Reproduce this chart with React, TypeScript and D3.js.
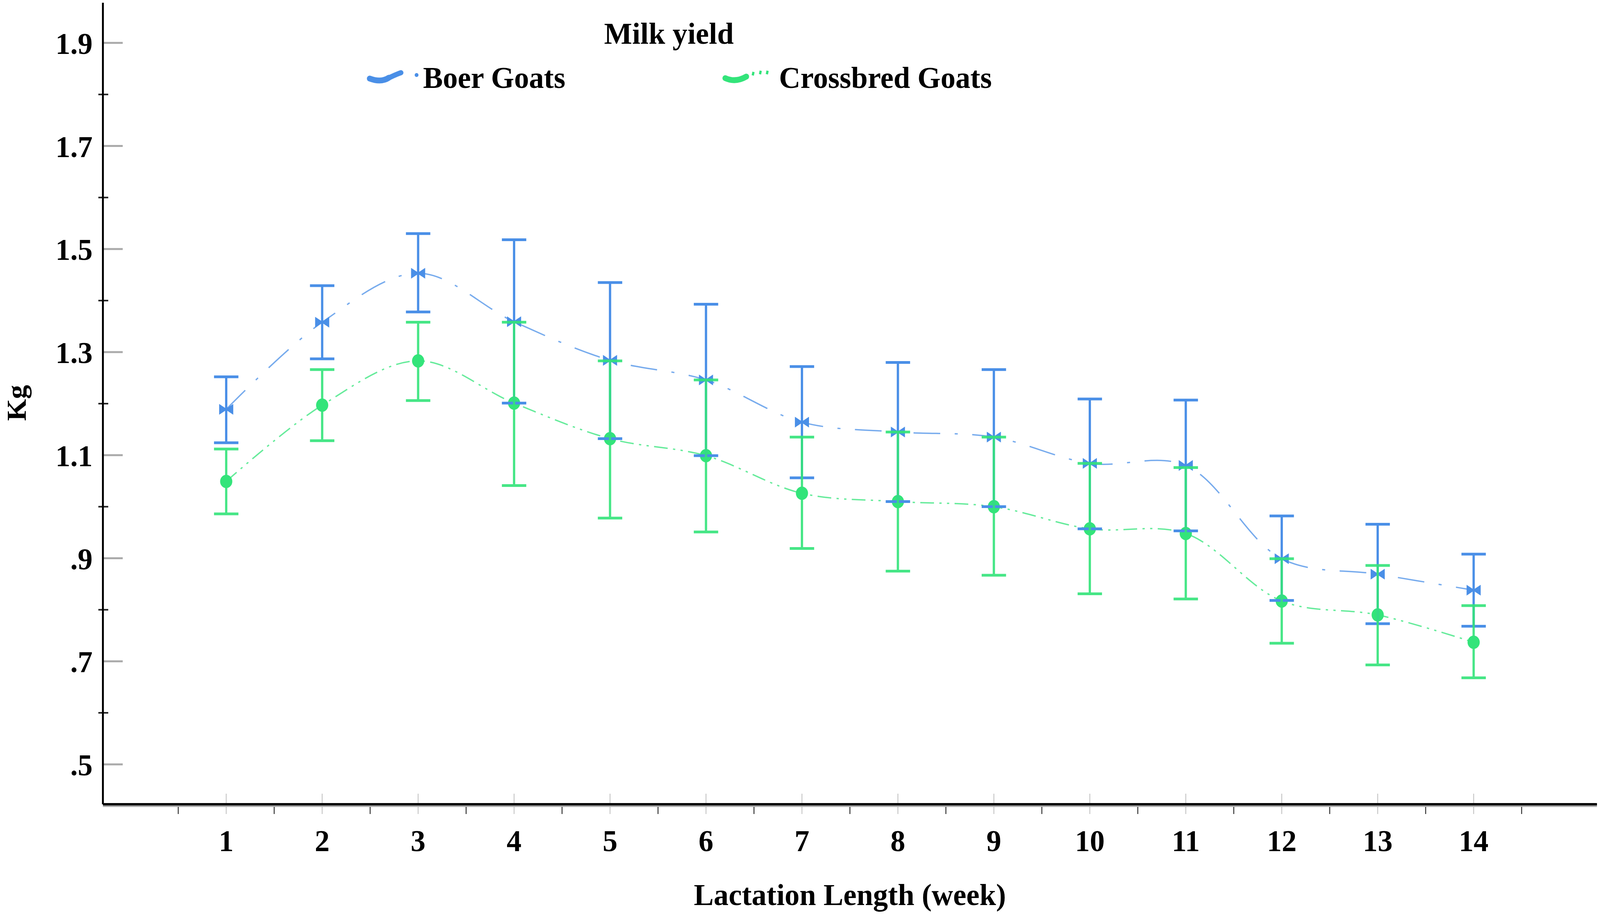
import * as d3 from "d3";

// Lactation week categories
const weeks = [1, 2, 3, 4, 5, 6, 7, 8, 9, 10, 11, 12, 13, 14];

// Boer goats: mean milk yield (kg) with error bar limits
const boerMean = [1.189, 1.358, 1.453, 1.359, 1.284, 1.246, 1.164, 1.145, 1.135, 1.084, 1.08, 0.899, 0.869, 0.838];
const boerUpper = [1.252, 1.429, 1.53, 1.518, 1.435, 1.393, 1.272, 1.28, 1.266, 1.209, 1.207, 0.982, 0.966, 0.908];
const boerLower = [1.124, 1.287, 1.378, 1.201, 1.132, 1.099, 1.056, 1.01, 1.0, 0.957, 0.953, 0.818, 0.773, 0.768];

// Crossbred goats
const crossMean = [1.049, 1.197, 1.283, 1.201, 1.132, 1.099, 1.026, 1.01, 1.0, 0.957, 0.948, 0.817, 0.79, 0.737];
const crossUpper = [1.112, 1.266, 1.358, 1.358, 1.283, 1.246, 1.135, 1.145, 1.135, 1.084, 1.076, 0.899, 0.886, 0.808];
const crossLower = [0.986, 1.128, 1.206, 1.041, 0.978, 0.951, 0.919, 0.875, 0.867, 0.831, 0.821, 0.735, 0.693, 0.668];

// Axis ticks
const yMajorTicks = [0.5, 0.7, 0.9, 1.1, 1.3, 1.5, 1.7, 1.9];
const yMinorTicks = [0.6, 0.8, 1.0, 1.2, 1.4, 1.6, 1.8];

const BLUE = "#4a8fe7";
const GREEN = "#33e47a";
const FONT = "'Liberation Serif', 'Times New Roman', serif";
const FS = 78;

const W = 4198;
const H = 2344;
const plot = { left: 270, right: 4190, top: 7, bottom: 2058 };

interface Pt {
  week: number;
  mean: number;
  lo: number;
  hi: number;
}

const boer: Pt[] = weeks.map((w, i) => ({ week: w, mean: boerMean[i], lo: boerLower[i], hi: boerUpper[i] }));
const cross: Pt[] = weeks.map((w, i) => ({ week: w, mean: crossMean[i], lo: crossLower[i], hi: crossUpper[i] }));

// SPSS style: drop the leading zero
const fmtTick = (v: number) => {
  const s = v.toFixed(1);
  return s.startsWith("0") ? s.slice(1) : s;
};

export default function App() {
  const x = d3
    .scalePoint<number>()
    .domain(weeks)
    .range([plot.left, plot.right])
    .padding(1.285);
  const step = x.step();

  const y = d3.scaleLinear().domain([0.4226, 1.978]).range([plot.bottom, plot.top]);

  const line = d3
    .line<Pt>()
    .x((d) => x(d.week) as number)
    .y((d) => y(d.mean))
    .curve(d3.curveCatmullRom.alpha(0.5));

  // minor x ticks sit halfway between categories
  const xMinor = weeks.map((w) => (x(w) as number) - step / 2).concat([(x(14) as number) + step / 2]);

  const capW = 64;
  const bars = (data: Pt[], color: string) =>
    data.map((d) => {
      const cx = x(d.week) as number;
      return (
        <g key={d.week} stroke={color} strokeWidth={6}>
          <line x1={cx} x2={cx} y1={y(d.hi)} y2={y(d.lo)} />
          <line x1={cx - capW / 2} x2={cx + capW / 2} y1={y(d.hi)} y2={y(d.hi)} strokeWidth={7} />
          <line x1={cx - capW / 2} x2={cx + capW / 2} y1={y(d.lo)} y2={y(d.lo)} strokeWidth={7} />
        </g>
      );
    });

  return (
    <div style={{ position: "fixed", left: 0, top: 0, width: "100vw", height: "100vh", background: "#fff" }}>
      <svg
        width="100%"
        height="100%"
        viewBox={`0 0 ${W} ${H}`}
        preserveAspectRatio="none"
        fontFamily={FONT}
        style={{ display: "block" }}
      >
        <rect width={W} height={H} fill="#fff" />

        {/* y axis ticks */}
        {yMajorTicks.map((t) => (
          <g key={t}>
            <line x1={plot.left} x2={plot.left + 52} y1={y(t)} y2={y(t)} stroke="#aaa" strokeWidth={5} />
            <text x={243} y={y(t)} dy="0.36em" textAnchor="end" fontSize={FS} fontWeight="bold" fill="#000">
              {fmtTick(t)}
            </text>
          </g>
        ))}
        {yMinorTicks.map((t) => (
          <line key={t} x1={plot.left - 12} x2={plot.left + 14} y1={y(t)} y2={y(t)} stroke="#222" strokeWidth={4} />
        ))}

        {/* x axis ticks */}
        {weeks.map((w) => (
          <g key={w}>
            <line x1={x(w)} x2={x(w)} y1={plot.bottom - 27} y2={plot.bottom + 25} stroke="#c8c8c8" strokeWidth={2.5} />
            <text x={x(w)} y={2178} textAnchor="middle" fontSize={FS} fontWeight="bold" fill="#000">
              {w}
            </text>
          </g>
        ))}
        {xMinor.map((mx, i) => (
          <line key={i} x1={mx} x2={mx} y1={plot.bottom} y2={plot.bottom + 25} stroke="#333" strokeWidth={2.5} />
        ))}

        {/* axis lines */}
        <line x1={plot.left} x2={plot.left} y1={plot.top} y2={plot.bottom} stroke="#000" strokeWidth={5} />
        <line x1={plot.left} x2={plot.right} y1={plot.bottom + 5} y2={plot.bottom + 5} stroke="#aaa" strokeWidth={4} />
        <line x1={plot.left} x2={plot.right} y1={plot.bottom} y2={plot.bottom} stroke="#000" strokeWidth={6} />

        {/* axis titles */}
        <text
          x={(plot.left + plot.right) / 2}
          y={2316}
          textAnchor="middle"
          fontSize={FS}
          fontWeight="bold"
          fill="#000"
        >
          Lactation Length (week)
        </text>
        <text
          transform={`translate(68,${1031}) rotate(-90)`}
          textAnchor="middle"
          fontSize={72}
          fontWeight="bold"
          fill="#000"
        >
          Kg
        </text>

        {/* series lines */}
        <path
          d={line(boer) ?? ""}
          fill="none"
          stroke={BLUE}
          strokeOpacity={0.75}
          strokeWidth={3.5}
          strokeDasharray="70 38 8 38"
        />
        <path
          d={line(cross) ?? ""}
          fill="none"
          stroke={GREEN}
          strokeOpacity={0.75}
          strokeWidth={3.5}
          strokeDasharray="36 14 6 14 6 14"
        />

        {/* markers */}
        {boer.map((d) => {
          const cx = x(d.week) as number;
          const cy = y(d.mean);
          return (
            <path
              key={d.week}
              transform={`translate(${cx},${cy})`}
              d="M-17,-11L0,0L-17,11Z M17,-11L0,0L17,11Z"
              fill={BLUE}
              stroke={BLUE}
              strokeWidth={3}
            />
          );
        })}
        {cross.map((d) => (
          <ellipse key={d.week} cx={x(d.week)} cy={y(d.mean)} rx={16} ry={17} fill={GREEN} />
        ))}

        {/* error bars */}
        {bars(boer, BLUE)}
        <g opacity={0.9}>{bars(cross, GREEN)}</g>

        {/* legend */}
        <text x={1755} y={112} textAnchor="middle" fontSize={FS} fontWeight="bold" fill="#000">
          Milk yield
        </text>
        <g>
          <path d="M970,201 Q1000,212 1020,199" fill="none" stroke={BLUE} strokeWidth={15} strokeLinecap="round" />
          <path d="M1023,198 Q1040,190 1052,186" fill="none" stroke={BLUE} strokeWidth={13} strokeLinecap="round" />
          <circle cx={1093} cy={192} r={5} fill={BLUE} />
          <text x={1110} y={225} fontSize={FS} fontWeight="bold" fill="#000">
            Boer Goats
          </text>
        </g>
        <g>
          <path d="M1903,200 Q1930,212 1958,196" fill="none" stroke={GREEN} strokeWidth={15} strokeLinecap="round" />
          <line x1={1975} x2={1977} y1={193} y2={184} stroke={GREEN} strokeWidth={6} />
          <line x1={1994} x2={1996} y1={190} y2={181} stroke={GREEN} strokeWidth={6} />
          <line x1={2012} x2={2014} y1={190} y2={181} stroke={GREEN} strokeWidth={6} />
          <text x={2044} y={225} fontSize={FS} fontWeight="bold" fill="#000">
            Crossbred Goats
          </text>
        </g>
      </svg>
    </div>
  );
}
